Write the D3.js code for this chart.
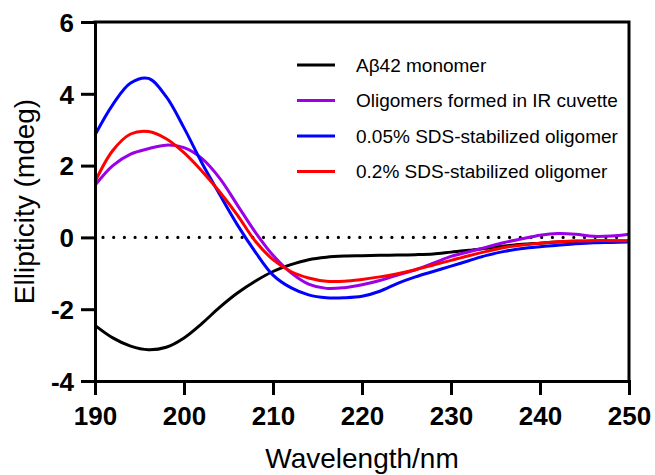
<!DOCTYPE html>
<html>
<head>
<meta charset="utf-8">
<script src="https://cdn.jsdelivr.net/npm/d3@7"></script>
<style>
  html, body { margin: 0; padding: 0; background: #fff; }
  svg { display: block; }
</style>
</head>
<body>
<svg id="chart" width="655" height="475"></svg>
<script>
const wavelengths = [190,192,194,196,198,200,202,204,206,208,210,212,214,216,218,220,222,224,226,228,230,232,234,236,238,240,242,244,246,248,250];
const monomer = [-2.45,-2.80,-3.03,-3.13,-3.06,-2.80,-2.40,-1.95,-1.55,-1.22,-0.95,-0.76,-0.62,-0.55,-0.52,-0.51,-0.50,-0.49,-0.48,-0.46,-0.41,-0.36,-0.30,-0.24,-0.19,-0.16,-0.13,-0.11,-0.10,-0.10,-0.10];
const irCuvette = [1.45,2.00,2.32,2.47,2.57,2.50,2.20,1.65,0.90,0.15,-0.50,-0.98,-1.30,-1.42,-1.40,-1.32,-1.20,-1.05,-0.90,-0.72,-0.53,-0.40,-0.27,-0.14,-0.04,0.06,0.11,0.09,0.03,0.04,0.09];
const sds005 = [2.85,3.70,4.30,4.43,3.92,3.05,2.08,1.20,0.35,-0.40,-1.05,-1.40,-1.60,-1.68,-1.68,-1.64,-1.50,-1.28,-1.10,-0.95,-0.80,-0.65,-0.50,-0.39,-0.31,-0.26,-0.22,-0.18,-0.15,-0.14,-0.13];
const sds02 = [1.55,2.42,2.88,2.95,2.75,2.36,1.85,1.27,0.62,-0.10,-0.62,-0.95,-1.13,-1.22,-1.22,-1.17,-1.10,-1.01,-0.90,-0.77,-0.64,-0.51,-0.39,-0.28,-0.21,-0.16,-0.12,-0.10,-0.09,-0.09,-0.09];

const seriesNames = ["Aβ42 monomer", "Oligomers formed in IR cuvette", "0.05% SDS-stabilized oligomer", "0.2% SDS-stabilized oligomer"];
const seriesColors = ["#000000", "#9b00e6", "#0000ff", "#ff0000"];
const seriesValues = [monomer, irCuvette, sds005, sds02];
const xTicks = [190,200,210,220,230,240,250];
const yTicks = [-4,-2,0,2,4,6];

const svg = d3.select("#chart");
const mLeft = 95, mRight = 629, mTop = 22, mBottom = 381;
const font = "'Liberation Sans', Arial, Helvetica, sans-serif";

const x = d3.scaleLinear().domain([190,250]).range([mLeft,mRight]);
const y = d3.scaleLinear().domain([-4,6]).range([mBottom,mTop]);

// zero dotted line
svg.append("line")
  .attr("x1", x(190)+8).attr("x2", x(250)-2)
  .attr("y1", y(0)).attr("y2", y(0))
  .attr("stroke", "#000").attr("stroke-width", 3.2)
  .attr("stroke-linecap", "round")
  .attr("stroke-dasharray", "0,10.7");

// curves
const line = d3.line()
  .x((d,i) => x(wavelengths[i]))
  .y(d => y(d))
  .curve(d3.curveCatmullRom.alpha(0.5));

seriesValues.forEach((vals, k) => {
  svg.append("path")
    .datum(vals)
    .attr("d", line)
    .attr("fill", "none")
    .attr("stroke", seriesColors[k])
    .attr("stroke-width", 3)
    .attr("stroke-linejoin", "round");
});

// frame top and right
svg.append("path")
  .attr("d", `M${mLeft},${mTop}H${mRight}V${mBottom}`)
  .attr("fill", "none").attr("stroke", "#000").attr("stroke-width", 3)
  .attr("stroke-linecap", "square");

// axes
const xAxis = svg.append("g")
  .attr("transform", `translate(0,${mBottom})`)
  .call(d3.axisBottom(x).tickValues(xTicks).tickSize(14).tickSizeOuter(0).tickFormat(d3.format("d")));
const yAxis = svg.append("g")
  .attr("transform", `translate(${mLeft},0)`)
  .call(d3.axisLeft(y).tickValues(yTicks).tickSize(14).tickSizeOuter(0).tickFormat(d => d < 0 ? "-" + Math.abs(d) : String(d)));

[xAxis, yAxis].forEach(g => {
  g.select(".domain").attr("stroke-width", 3).attr("stroke-linecap", "square");
  g.selectAll(".tick line").attr("stroke-width", 3);
  g.selectAll(".tick text")
    .attr("font-family", font).attr("font-size", 26).attr("font-weight", "bold")
    .attr("fill", "#000");
});
xAxis.selectAll(".tick text").attr("y", 44).attr("dy", 0);
yAxis.selectAll(".tick text").attr("x", -21).attr("dy", "0.36em");

// axis titles
svg.append("text")
  .attr("x", (mLeft+mRight)/2).attr("y", 468)
  .attr("text-anchor", "middle")
  .attr("font-family", font).attr("font-size", 28)
  .text("Wavelength/nm");
svg.append("text")
  .attr("transform", `translate(34,${(mTop+mBottom)/2}) rotate(-90)`)
  .attr("text-anchor", "middle")
  .attr("font-family", font).attr("font-size", 28)
  .text("Ellipticity (mdeg)");

// legend
const legend = svg.append("g");
seriesNames.forEach((name, k) => {
  const ly = 65 + k*35.5;
  legend.append("line")
    .attr("x1", 297).attr("x2", 335).attr("y1", ly).attr("y2", ly)
    .attr("stroke", seriesColors[k]).attr("stroke-width", 3);
  legend.append("text")
    .attr("x", 356).attr("y", ly).attr("dy", "0.36em")
    .attr("font-family", font).attr("font-size", 19)
    .attr("fill", "#000")
    .text(name);
});
</script>
</body>
</html>
